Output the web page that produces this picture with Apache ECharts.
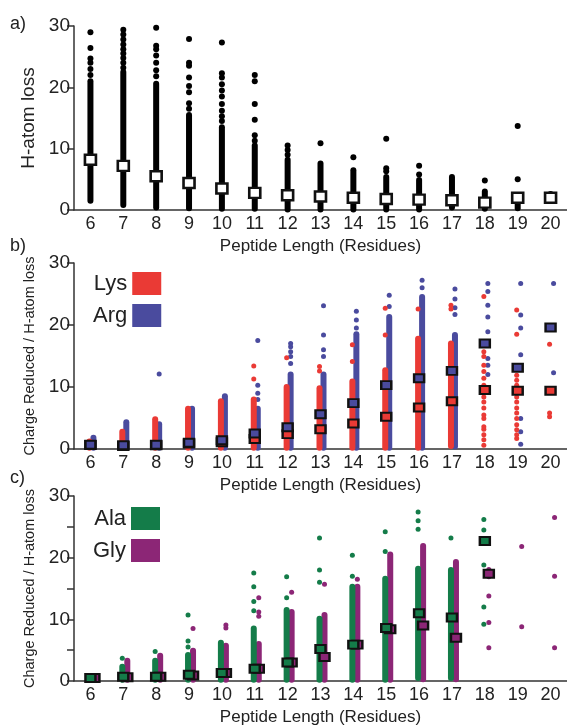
<!DOCTYPE html>
<html>
<head>
<meta charset="utf-8">
<script src="https://cdn.jsdelivr.net/npm/echarts@6/dist/echarts.min.js"></script>
<style>
  html, body { margin: 0; padding: 0; background: #fff; }
  #chart { width: 567px; height: 728px; }
</style>
</head>
<body>
<div id="chart"></div>
<script>
// categories: peptide length (residues)
var categories = ['6','7','8','9','10','11','12','13','14','15','16','17','18','19','20'];

// a) H-atom loss: dense range, outliers, median
var hLow  = [1.5, 0.8, 0.4, 0.3, 0.2, 0.2, 0.1, 0.1, 0.1, 0.1, 0.1, 0.4, 0.2, 0.3, 1.6];
var hHigh = [21.0, 22.5, 20.6, 15.5, 13.5, 10.5, 8.2, 7.6, 6.5, 5.4, 4.9, 5.4, 3.0, 1.6, 2.6];
var hOut = [
  [22.0, 23.0, 24.0, 24.7, 26.4, 29.0],
  [23.2, 24.0, 24.8, 25.5, 26.2, 27.0, 27.8, 28.6, 29.4, 30.2],
  [21.8, 22.8, 24.0, 25.2, 26.2, 26.8, 29.7],
  [16.5, 17.4, 19.2, 20.2, 21.6, 23.5, 24.0, 27.9],
  [14.5, 15.3, 16.2, 17.3, 18.5, 19.5, 20.5, 21.6, 22.3, 27.3],
  [11.3, 12.2, 14.7, 17.3, 21.0, 22.0],
  [9.0, 9.8, 10.5],
  [10.9],
  [8.6],
  [6.3, 6.8, 11.6],
  [5.8, 7.2],
  [],
  [4.8],
  [5.0, 13.7],
  []
];
var hMedian = [8.2, 7.2, 5.5, 4.4, 3.5, 2.8, 2.4, 2.2, 2.0, 1.8, 1.7, 1.6, 1.2, 2.0, 2.0];

// b) Lys / Arg
var lysLow  = [0.2, 0.2, 0.2, 0.2, 0.2, 0.2, 0.2, 0.2, 0.2, 0.2, 0.2, 0.5, null, null, null];
var lysHigh = [1.2, 2.8, 4.8, 6.5, 7.7, 8.0, 10.0, 9.8, 10.9, 12.7, 17.8, 17.0, null, null, null];
var lysOut = [
  [], [], [], [], [],
  [11.3, 13.4],
  [14.7],
  [12.6, 13.3],
  [14.1, 16.8],
  [18.4, 22.7],
  [22.6],
  [22.6, 23.2],
  [0.6, 1.5, 2.3, 3.2, 3.6, 4.9, 5.5, 6.6, 7.6, 8.4, 10.3, 11.4, 12.5, 13.5, 14.9, 15.7, 16.8, 24.6],
  [1.7, 2.3, 3.1, 3.9, 4.9, 5.8, 6.6, 7.6, 8.4, 10.3, 11.1, 11.9, 18.5, 22.4],
  [5.2, 5.8, 16.9]
];
var lysMean = [0.65, 0.5, 0.6, 0.9, 1.1, 1.6, 2.4, 3.2, 4.1, 5.2, 6.7, 7.7, 9.5, 9.4, 9.4];

var argLow  = [0.2, 0.2, 0.2, 0.2, 0.2, 0.2, 0.2, 0.2, 0.2, 0.2, 0.2, 0.4, null, null, null];
var argHigh = [1.8, 4.3, 4.0, 6.5, 8.5, 6.5, 12.0, 12.0, 18.5, 21.3, 24.5, 18.4, null, null, null];
var argOut = [
  [], [],
  [12.1],
  [], [],
  [8.0, 9.0, 10.3, 17.5],
  [13.8, 14.9, 15.7, 16.5, 17.0],
  [14.9, 16.0, 18.4, 23.1],
  [19.5, 20.8, 22.2],
  [23.0, 24.8],
  [26.0, 27.2],
  [21.7, 22.8, 24.2, 25.8],
  [12.0, 13.5, 14.6, 18.9, 21.3, 23.2, 25.4, 26.7],
  [0.75, 2.8, 4.9, 15.2, 19.5, 21.6, 26.7],
  [12.3, 26.7]
];
var argMean = [0.7, 0.6, 0.7, 1.0, 1.4, 2.5, 3.5, 5.6, 7.4, 10.3, 11.4, 12.6, 17.0, 13.1, 19.6];

// c) Ala / Gly
var alaLow  = [0.2, 0.2, 0.2, 0.2, 0.2, 0.2, 0.2, 0.2, 0.2, 0.2, 0.5, 0.5, null, null, null];
var alaHigh = [0.5, 2.3, 3.3, 4.2, 6.2, 8.5, 11.5, 10.1, 15.3, 16.6, 18.2, 18.0, null, null, null];
var alaOut = [
  [],
  [3.7],
  [4.8],
  [5.5, 6.5, 10.7],
  [],
  [11.4, 12.9, 15.3, 17.5],
  [13.5, 16.9],
  [16.0, 18.0, 23.2],
  [17.0, 20.4],
  [21.0, 24.2],
  [24.6, 26.0, 27.4],
  [23.2],
  [9.2, 12.0, 18.8, 24.5, 26.2],
  [],
  []
];
var alaMean = [0.5, 0.7, 0.7, 1.0, 1.3, 2.0, 3.0, 5.2, 5.9, 8.6, 11.0, 10.3, 22.7, null, null];

var glyLow  = [0.2, 0.2, 0.2, 0.2, 0.2, 0.2, 0.2, 0.2, 0.2, 0.2, 0.3, 0.3, null, null, null];
var glyHigh = [0.5, 3.3, 4.1, 4.9, 5.7, 6.0, 11.2, 10.7, 15.3, 20.5, 21.9, 19.3, null, null, null];
var glyOut = [
  [], [], [],
  [8.5],
  [8.6, 9.1],
  [10.5, 11.2, 13.5],
  [14.4],
  [15.7],
  [16.5],
  [], [], [],
  [5.4, 9.5, 13.8, 16.9, 18.1],
  [8.8, 21.8],
  [5.4, 17.0, 26.5]
];
var glyMean = [0.5, 0.6, 0.7, 0.9, 1.3, 2.0, 3.0, 3.9, 5.9, 8.4, 9.0, 7.0, 17.4, null, null];

var RED = '#ea3a35', BLUE = '#4a4b9e', GREEN = '#147c49', PURPLE = '#8c2676';
var FONT = "'Liberation Sans', Arial, sans-serif";

function rangeData(low, high) {
  var out = [];
  high.forEach(function (h, i) { if (h != null) out.push([i, low[i], h]); });
  return out;
}
function pointData(lists) {
  var out = [];
  lists.forEach(function (l, i) { l.forEach(function (v) { out.push([i, v]); }); });
  return out;
}
function meanData(arr) {
  var out = [];
  arr.forEach(function (v, i) { if (v != null) out.push([i, v]); });
  return out;
}

// thick rounded column for the dense part of each strip
function columnSeries(name, axis, data, color, dx, w, z) {
  return {
    name: name, type: 'custom', xAxisIndex: axis, yAxisIndex: axis, z: z, silent: true,
    renderItem: function (params, api) {
      var p0 = api.coord([api.value(0), api.value(1)]);
      var p1 = api.coord([api.value(0), api.value(2)]);
      return {
        type: 'rect',
        shape: { x: p0[0] + dx - w / 2, y: p1[1] - w / 2, width: w, height: p0[1] - p1[1] + w, r: w / 2 },
        style: { fill: color }
      };
    },
    data: data
  };
}
function dotSeries(name, axis, data, color, dx, size, z) {
  return {
    name: name, type: 'scatter', xAxisIndex: axis, yAxisIndex: axis, z: z, silent: true,
    symbol: 'circle', symbolSize: size, symbolOffset: [dx, 0],
    itemStyle: { color: color, opacity: 1 },
    data: data
  };
}
function squareSeries(name, axis, data, color, dx, size, bw, z) {
  return {
    name: name, type: 'scatter', xAxisIndex: axis, yAxisIndex: axis, z: z, silent: true,
    symbol: 'rect', symbolSize: size, symbolOffset: [dx, 0],
    itemStyle: { color: color, borderColor: '#111', borderWidth: bw, opacity: 1 },
    data: data
  };
}

function xAxis(idx) {
  return {
    type: 'category', gridIndex: idx, data: categories,
    name: 'Peptide Length (Residues)', nameLocation: 'middle', nameGap: 28,
    nameTextStyle: { fontSize: 17, color: '#222', fontFamily: FONT },
    axisLine: { lineStyle: { color: '#333', width: 1.5 } },
    axisTick: { alignWithLabel: true, length: 5, lineStyle: { color: '#333', width: 1.5 } },
    axisLabel: { fontSize: 18, color: '#222', margin: 5, fontFamily: FONT, interval: 0 },
    splitLine: { show: false }
  };
}
function yAxis(idx, name, nameSize, nameGap, step) {
  return {
    type: 'value', gridIndex: idx, min: 0, max: 30, interval: step,
    name: name, nameLocation: 'middle', nameGap: nameGap,
    nameTextStyle: { fontSize: nameSize, color: '#222', fontFamily: FONT },
    axisLine: { show: true, lineStyle: { color: '#333', width: 1.5 } },
    axisTick: { show: true, length: 7, lineStyle: { color: '#333', width: 1.5 } },
    axisLabel: {
      fontSize: 19, color: '#222', margin: 4, fontFamily: FONT,
      formatter: function (v) { return v % 10 === 0 ? String(v) : ''; }
    },
    splitLine: { show: false }
  };
}

var chart = echarts.init(document.getElementById('chart'), null, { renderer: 'canvas' });

var option = {
  animation: false,
  backgroundColor: '#fff',
  textStyle: { fontFamily: FONT },
  grid: [
    { left: 74, right: 0, top: 26, height: 184 },
    { left: 74, right: 0, top: 263, height: 186 },
    { left: 74, right: 0, top: 496, height: 185 }
  ],
  xAxis: [xAxis(0), xAxis(1), xAxis(2)],
  yAxis: [
    yAxis(0, 'H-atom loss', 19, 30, 10),
    yAxis(1, 'Charge Reduced / H-atom loss', 14.5, 33, 10),
    yAxis(2, 'Charge Reduced / H-atom loss', 14.5, 33, 5)
  ],
  legend: [
    {
      data: ['Lys', 'Arg'], left: 88, top: 267, orient: 'vertical', align: 'right',
      itemWidth: 29, itemHeight: 23, itemGap: 9, icon: 'rect', selectedMode: false,
      itemStyle: { borderWidth: 0 },
      textStyle: { fontSize: 22, color: '#222', fontFamily: FONT }
    },
    {
      data: ['Ala', 'Gly'], left: 88, top: 502, orient: 'vertical', align: 'right',
      itemWidth: 29, itemHeight: 23, itemGap: 9, icon: 'rect', selectedMode: false,
      itemStyle: { borderWidth: 0 },
      textStyle: { fontSize: 22, color: '#222', fontFamily: FONT }
    }
  ],
  graphic: [
    { type: 'text', left: 10, top: 15, style: { text: 'a)', fontSize: 18, fill: '#222', fontFamily: FONT } },
    { type: 'text', left: 10, top: 237, style: { text: 'b)', fontSize: 18, fill: '#222', fontFamily: FONT } },
    { type: 'text', left: 10, top: 469, style: { text: 'c)', fontSize: 18, fill: '#222', fontFamily: FONT } }
  ],
  series: [
    // a
    columnSeries('hRange', 0, rangeData(hLow, hHigh), '#000', 0, 6, 2),
    dotSeries('hOut', 0, pointData(hOut), '#000', 0, 6, 2),
    squareSeries('hMedian', 0, meanData(hMedian), '#fff', 0, [11, 10], 2.5, 5),
    // b
    columnSeries('argRange', 1, rangeData(argLow, argHigh), BLUE, 3, 6, 2),
    dotSeries('Arg', 1, pointData(argOut), BLUE, 3, 5, 2),
    columnSeries('lysRange', 1, rangeData(lysLow, lysHigh), RED, -1, 6, 3),
    dotSeries('Lys', 1, pointData(lysOut), RED, -1, 5, 3),
    squareSeries('lysMean', 1, meanData(lysMean), RED, 0, [10, 8], 2.2, 5),
    squareSeries('argMean', 1, meanData(argMean), BLUE, 0, [10, 8], 2.2, 5),
    // c
    columnSeries('glyRange', 2, rangeData(glyLow, glyHigh), PURPLE, 4, 6, 2),
    dotSeries('Gly', 2, pointData(glyOut), PURPLE, 4, 5, 2),
    columnSeries('alaRange', 2, rangeData(alaLow, alaHigh), GREEN, -1, 6, 3),
    dotSeries('Ala', 2, pointData(alaOut), GREEN, -1, 5, 3),
    squareSeries('glyMean', 2, meanData(glyMean), PURPLE, 4, [10, 8], 2.2, 5),
    squareSeries('alaMean', 2, meanData(alaMean), GREEN, 0, [10, 8], 2.2, 6)
  ]
};

chart.setOption(option);
window.addEventListener('resize', function () { chart.resize(); });
</script>
</body>
</html>
